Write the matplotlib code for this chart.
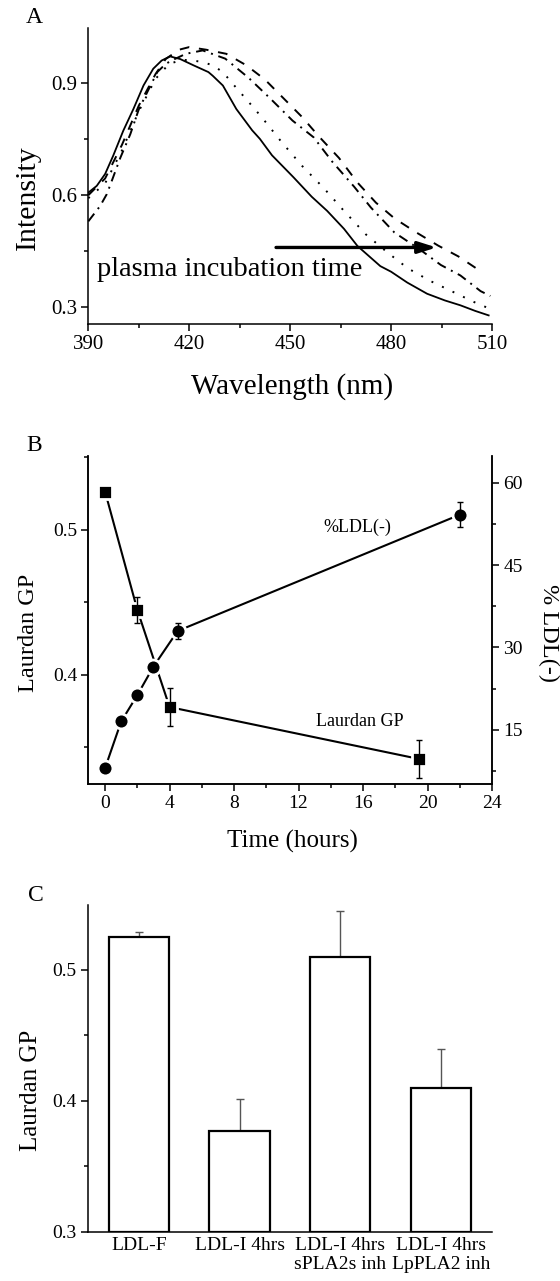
import numpy as np
import matplotlib
matplotlib.use("Agg")
import matplotlib.pyplot as plt
from matplotlib.ticker import MultipleLocator

plt.rcParams['font.family'] = ['Liberation Serif', 'DejaVu Serif']
plt.rcParams['axes.linewidth'] = 1.1

# ---- panel A: emission spectra ----
wl_solid = [390, 392.5, 395, 397.4, 400.4, 403.4, 406.4, 409.3, 411.8, 414.3, 417.3, 421.3,
            425.7, 427, 430, 434, 438.7, 441, 444.6, 451, 456.4, 461, 466, 470, 476.8, 480,
            484.8, 490.7, 496, 500.6, 505, 509]
int_solid = [0.607, 0.625, 0.657, 0.706, 0.773, 0.831, 0.894, 0.939, 0.961, 0.972, 0.965, 0.948,
             0.930, 0.920, 0.894, 0.831, 0.774, 0.751, 0.707, 0.648, 0.596, 0.558, 0.51, 0.464,
             0.410, 0.395, 0.366, 0.336, 0.318, 0.305, 0.290, 0.278]

wl_dot = [390, 395, 400, 405, 410, 414, 418, 421, 424, 427, 430, 433, 436, 439, 442, 447.5,
          453.5, 460, 466, 472.5, 479, 485, 491.7, 498.4, 504.6, 508.5]
int_dot = [0.592, 0.632, 0.72, 0.825, 0.912, 0.952, 0.963, 0.961, 0.957, 0.948, 0.930, 0.898,
           0.867, 0.836, 0.804, 0.742, 0.679, 0.619, 0.558, 0.495, 0.446, 0.404, 0.370, 0.341,
           0.314, 0.299]

wl_dashdot = [390, 393.5, 395.5, 397, 399.5, 402.5, 405, 408, 410.5, 413, 415, 419, 424, 430.7,
              437.6, 444, 450.7, 457, 462.5, 469, 474, 481, 488.5, 494.8, 500.6, 506.6, 509.5]
int_dashdot = [0.53, 0.571, 0.603, 0.639, 0.70, 0.764, 0.83, 0.885, 0.93, 0.952, 0.962, 0.979,
               0.988, 0.966, 0.915, 0.86, 0.80, 0.755, 0.69, 0.623, 0.567, 0.50, 0.455, 0.413,
               0.385, 0.343, 0.330]

wl_dash = [390, 395, 400, 405, 410, 413, 417, 420, 425, 431, 437, 442.5, 448, 453.5, 458.5,
           464.5, 470, 475.5, 481, 487, 494, 500, 506]
int_dash = [0.600, 0.645, 0.735, 0.84, 0.925, 0.965, 0.99, 0.997, 0.99, 0.979, 0.948, 0.91,
            0.86, 0.81, 0.758, 0.70, 0.634, 0.58, 0.538, 0.503, 0.465, 0.436, 0.40]

# ---- panel B: time course ----
t_gp = [0, 2, 4, 19.5]
gp = [0.5264, 0.4448, 0.3777, 0.3418]
gp_err = [0, 0.0092, 0.013, 0.013]

t_ldl = [0, 1, 2, 3, 4.5, 22]
ldl = [8.0, 16.5, 21.3, 26.5, 33.0, 54.2]
ldl_err = [0, 0, 0, 0, 1.4, 2.3]

# ---- panel C: bars ----
conditions = ['LDL-F', 'LDL-I 4hrs', 'LDL-I 4hrs\nsPLA2s inh', 'LDL-I 4hrs\nLpPLA2 inh']
gp_bar = [0.5254, 0.3772, 0.5096, 0.4102]
gp_bar_err = [0.0038, 0.024, 0.035, 0.0297]


def style_ticks(ax, size):
    ax.tick_params(which='major', direction='out', length=5, width=1.1, labelsize=size, pad=3)
    ax.tick_params(which='minor', direction='out', length=3, width=1.1)


fig = plt.figure(figsize=(5.6, 12.81), dpi=100)

# ================= A =================
axA = fig.add_axes([0.1577, 0.7471, 0.7209, 0.2310])
axA.plot(wl_solid, int_solid, color='black', lw=1.3, ls='-')
axA.plot(wl_dot, int_dot, color='black', lw=1.4, ls=(0, (1, 5)))
axA.plot(wl_dashdot, int_dashdot, color='black', lw=1.4, ls=(0, (5, 3, 1, 3)))
axA.plot(wl_dash, int_dash, color='black', lw=1.4, ls=(0, (5, 5)))
axA.set_xlim(390, 510)
axA.set_ylim(0.255, 1.048)
axA.set_xticks([390, 420, 450, 480, 510])
axA.xaxis.set_minor_locator(MultipleLocator(15))
axA.set_yticks([0.3, 0.6, 0.9])
axA.yaxis.set_minor_locator(MultipleLocator(0.15))
axA.set_yticklabels(['0.3', '0.6', '0.9'])
for s in ['top', 'right']:
    axA.spines[s].set_visible(False)
style_ticks(axA, 15)
axA.annotate('', xy=(493.5, 0.46), xytext=(445.8, 0.46),
             arrowprops=dict(arrowstyle='-|>,head_length=1.1,head_width=0.35',
                             lw=2.4, color='black', shrinkA=0, shrinkB=0, mutation_scale=10))
axA.text(392.6, 0.383, 'plasma incubation time', fontsize=20.5, va='baseline', ha='left')
fig.text(0.049, 0.846, 'Intensity', fontsize=21.5, rotation=90, ha='center', va='center')
fig.text(0.522, 0.698, 'Wavelength (nm)', fontsize=21, ha='center', va='center')
fig.text(0.061, 0.986, 'A', fontsize=17, ha='center', va='center')

# ================= B =================
axB = fig.add_axes([0.1577, 0.388, 0.7209, 0.256])
axB2 = axB.twinx()
axB.plot(t_gp, gp, color='black', lw=1.5, marker='s', ms=10, mfc='black',
         mec='white', mew=2, zorder=3)
axB.errorbar(t_gp, gp, yerr=gp_err, fmt='none', ecolor='black', elinewidth=1,
             capsize=2.5, capthick=1, zorder=4)
axB2.plot(t_ldl, ldl, color='black', lw=1.5, marker='o', ms=10.7, mfc='black',
          mec='white', mew=2, zorder=3)
axB2.errorbar(t_ldl, ldl, yerr=ldl_err, fmt='none', ecolor='black', elinewidth=1,
              capsize=2.5, capthick=1, zorder=4)
axB.set_xlim(-1.04, 24)
axB.set_ylim(0.3246, 0.551)
axB2.set_ylim(5.1, 64.9)
axB.set_xticks([0, 4, 8, 12, 16, 20, 24])
axB.xaxis.set_minor_locator(MultipleLocator(2))
axB.set_yticks([0.4, 0.5])
axB.set_yticklabels(['0.4', '0.5'])
axB.yaxis.set_minor_locator(MultipleLocator(0.05))
axB2.set_yticks([15, 30, 45, 60])
axB2.yaxis.set_minor_locator(MultipleLocator(7.5))
axB.spines['top'].set_visible(False)
axB2.spines['top'].set_visible(False)
style_ticks(axB, 14)
style_ticks(axB2, 14)
axB.text(15.63, 0.502, '%LDL(-)', fontsize=13, ha='center', va='center')
axB.text(15.8, 0.3678, 'Laurdan GP', fontsize=13, ha='center', va='center')
fig.text(0.051, 0.506, 'Laurdan GP', fontsize=17.5, rotation=90, ha='center', va='center')
fig.text(0.980, 0.506, '% LDL(-)', fontsize=17.5, rotation=-90, ha='center', va='center')
fig.text(0.522, 0.343, 'Time (hours)', fontsize=18, ha='center', va='center')
fig.text(0.061, 0.6526, 'B', fontsize=17, ha='center', va='center')

# ================= C =================
axC = fig.add_axes([0.1566, 0.0383, 0.7220, 0.2552])
xpos = np.arange(1, len(conditions) + 1)
axC.bar(xpos, np.array(gp_bar) - 0.3, bottom=0.3, width=0.6, color='white',
        edgecolor='black', linewidth=1.6, zorder=2)
axC.errorbar(xpos, gp_bar, yerr=[np.zeros(len(gp_bar)), gp_bar_err], fmt='none',
             ecolor='#555555', elinewidth=1, capsize=3, capthick=1, zorder=1)
axC.set_xlim(0.49, 4.51)
axC.set_ylim(0.3, 0.5495)
axC.set_xticks(xpos)
axC.set_xticklabels(conditions, fontsize=13.5, linespacing=1.15)
axC.set_yticks([0.3, 0.4, 0.5])
axC.set_yticklabels(['0.3', '0.4', '0.5'])
axC.yaxis.set_minor_locator(MultipleLocator(0.05))
for s in ['top', 'right']:
    axC.spines[s].set_visible(False)
style_ticks(axC, 14)
axC.tick_params(axis='x', which='both', length=0, pad=4)
fig.text(0.056, 0.149, 'Laurdan GP', fontsize=18, rotation=90, ha='center', va='center')
fig.text(0.064, 0.3013, 'C', fontsize=17, ha='center', va='center')

fig.savefig('out.png', dpi=100)
